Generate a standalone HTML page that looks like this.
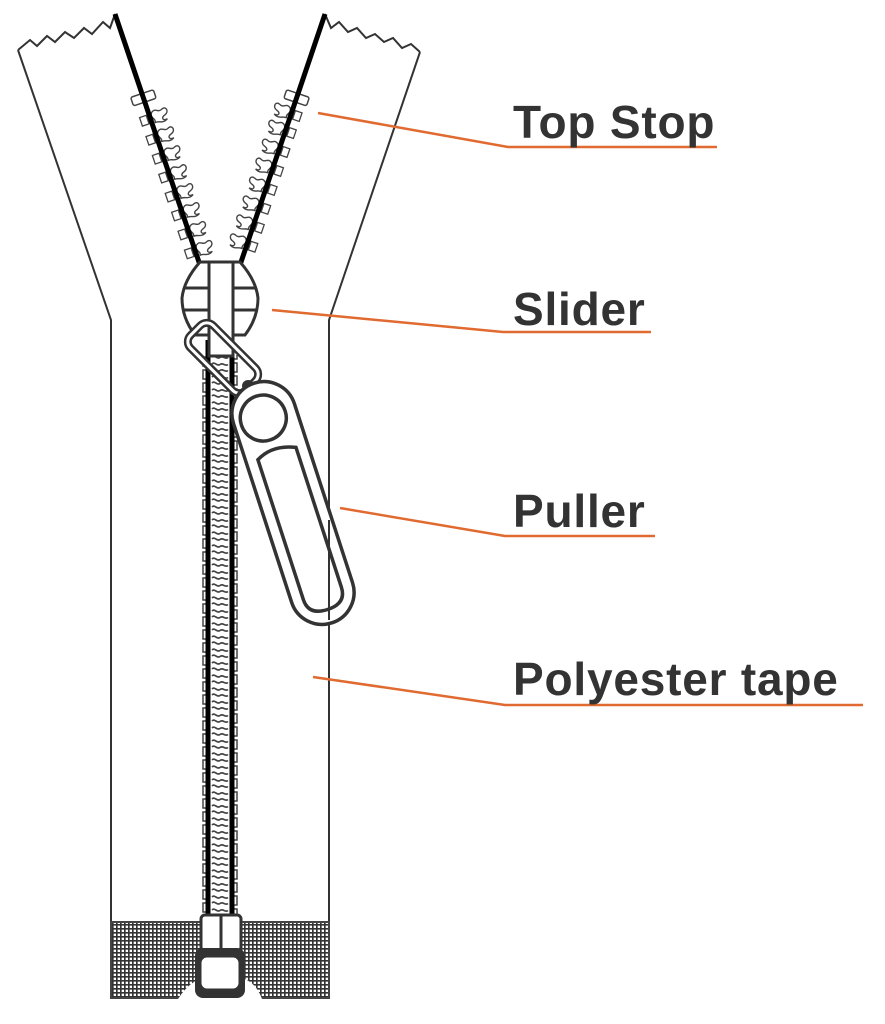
<!DOCTYPE html>
<html><head><meta charset="utf-8"><style>
html,body{margin:0;padding:0;background:#fff;}
svg{display:block}
text{font-family:"Liberation Sans",sans-serif;font-weight:bold;fill:#333;font-size:46px;letter-spacing:0.8px}
</style></head><body>
<svg width="885" height="1024" viewBox="0 0 885 1024" xmlns="http://www.w3.org/2000/svg">
<defs>
<pattern id="mesh" width="4" height="4" patternUnits="userSpaceOnUse">
<rect width="4" height="4" fill="#fff"/>
<path d="M0 0.8H4M0.8 0V4" stroke="#333" stroke-width="1.7"/>
</pattern>
<pattern id="chainV" x="0" y="355" width="40" height="13" patternUnits="userSpaceOnUse">
<rect x="3" y="2" width="6" height="9" fill="#fff" stroke="#444" stroke-width="1.5"/>
<rect x="31" y="8" width="6" height="9" fill="#fff" stroke="#444" stroke-width="1.5"/>
<rect x="31" y="-5" width="6" height="9" fill="#fff" stroke="#444" stroke-width="1.5"/>
<path d="M12 2 C15 -1 17 5 20 2.5 C23 0 25 5 28 2.5 M12 9 C15 6 17 12 20 9.5 C23 7 25 12 28 9.5" fill="none" stroke="#444" stroke-width="1.7"/>
</pattern>
<g id="tooth">
<rect x="-10" y="-4" width="7" height="9" fill="#fff" stroke="#444" stroke-width="1.3"/>
<path d="M3 -5 C8 -9 9 -2 14 -5 C19 -7 20 0 15 1.5 C10 3 11 7 16 6 C10 10 6 4 3 6 C6 2 -1 0 3 -5Z" fill="#fff" stroke="#444" stroke-width="1.4"/>
</g>
</defs>

<!-- tape outline -->
<path d="M18 50 L30 40 L37 46 L47 36 L55 42 L65 32 L74 38 L84 28 L92 34 L103 22 L110 28 L115 14" fill="none" stroke="#333" stroke-width="2"/>
<path d="M325 14 L331 28 L339 22 L348 32 L357 28 L366 38 L375 34 L384 42 L393 38 L402 48 L411 44 L420 52" fill="none" stroke="#333" stroke-width="2"/>
<path d="M18 50 L111 320 L111 998 L329 998 L329 320 L420 52" fill="none" stroke="#333" stroke-width="2"/>

<!-- mesh bottom -->
<rect x="111" y="922" width="218" height="76" fill="url(#mesh)" stroke="#444" stroke-width="2"/>
<path d="M178 999 Q190 980 205 978 L240 978 Q255 980 262 999Z" fill="#fff"/>

<!-- diagonal chains -->
<g transform="translate(200,265) rotate(-18.7)">
<use href="#tooth" x="0" y="-15"/><use href="#tooth" x="0" y="-35"/><use href="#tooth" x="0" y="-55"/>
<use href="#tooth" x="0" y="-75"/><use href="#tooth" x="0" y="-95"/><use href="#tooth" x="0" y="-115"/>
<use href="#tooth" x="0" y="-135"/><use href="#tooth" x="0" y="-155"/>
<rect x="-12" y="-181" width="24" height="9" rx="2" fill="#fff" stroke="#444" stroke-width="1.5"/>
</g>
<g transform="translate(240,265) rotate(18.7) scale(-1,1)">
<use href="#tooth" x="0" y="-22"/><use href="#tooth" x="0" y="-42"/><use href="#tooth" x="0" y="-62"/>
<use href="#tooth" x="0" y="-82"/><use href="#tooth" x="0" y="-102"/><use href="#tooth" x="0" y="-122"/>
<use href="#tooth" x="0" y="-142"/><use href="#tooth" x="0" y="-160"/>
<rect x="-12" y="-181" width="24" height="9" rx="2" fill="#fff" stroke="#444" stroke-width="1.5"/>
</g>
<line x1="115" y1="14" x2="201" y2="268" stroke="#000" stroke-width="5"/>
<line x1="325" y1="14" x2="239" y2="268" stroke="#000" stroke-width="5"/>

<!-- vertical chain -->
<rect x="200" y="355" width="40" height="562" fill="url(#chainV)"/>
<line x1="208" y1="340" x2="208" y2="918" stroke="#000" stroke-width="5"/>
<line x1="232" y1="340" x2="232" y2="918" stroke="#000" stroke-width="5"/>

<!-- bottom box -->
<rect x="201" y="915" width="40" height="36" rx="4" fill="#fff" stroke="#333" stroke-width="3"/>
<line x1="221" y1="915" x2="221" y2="951" stroke="#333" stroke-width="3"/>
<rect x="195" y="948" width="50" height="50" rx="8" fill="#333"/>
<rect x="201" y="957" width="38" height="32" rx="6" fill="#fff" stroke="#333" stroke-width="1"/>

<!-- slider -->
<path d="M200 262 L240 262 Q256 280 258 298 Q258 318 245 335 L195 335 Q182 318 182 298 Q184 280 200 262Z" fill="#fff" stroke="#333" stroke-width="3"/>
<line x1="184" y1="288" x2="256" y2="288" stroke="#333" stroke-width="3"/>
<line x1="184" y1="310" x2="256" y2="310" stroke="#333" stroke-width="3"/>
<rect x="209" y="262" width="24" height="94" fill="#fff" stroke="#333" stroke-width="3"/>
<!-- tab -->
<g transform="translate(223,358) rotate(45)">
<rect x="-39" y="-16" width="78" height="32" rx="9" fill="none" stroke="#333" stroke-width="8"/>
<rect x="-39" y="-16" width="78" height="32" rx="9" fill="none" stroke="#fff" stroke-width="3"/>
</g>
<line x1="248" y1="386" x2="264" y2="404" stroke="#333" stroke-width="12" stroke-linecap="round"/>
<line x1="248" y1="386" x2="264" y2="404" stroke="#fff" stroke-width="6"/>

<!-- puller -->
<g transform="translate(293,503) rotate(-18)">
<rect x="-32" y="-126" width="64" height="252" rx="32" fill="#fff" stroke="#333" stroke-width="3.5"/>
<circle cx="-2" cy="-90" r="23" fill="#fff" stroke="#333" stroke-width="3.5"/>
<path d="M-20 -52 Q-2 -62 20 -52 L20 95 Q20 112 0 112 Q-20 112 -20 95Z" fill="#fff" stroke="#333" stroke-width="3.5"/>
</g>
<line x1="329" y1="520" x2="329" y2="620" stroke="#333" stroke-width="2"/>

<!-- labels -->
<g stroke="#e06a30" stroke-width="2.5" fill="none">
<path d="M318 113 L508 147 L717 147"/>
<path d="M272 310 L503 332 L651 332"/>
<path d="M340 508 L505 536 L655 536"/>
<path d="M313 677 L505 705 L863 705"/>
</g>
<text x="513" y="138">Top Stop</text>
<text x="513" y="325">Slider</text>
<text x="513" y="527">Puller</text>
<text x="513" y="695">Polyester tape</text>
</svg>
</body></html>
